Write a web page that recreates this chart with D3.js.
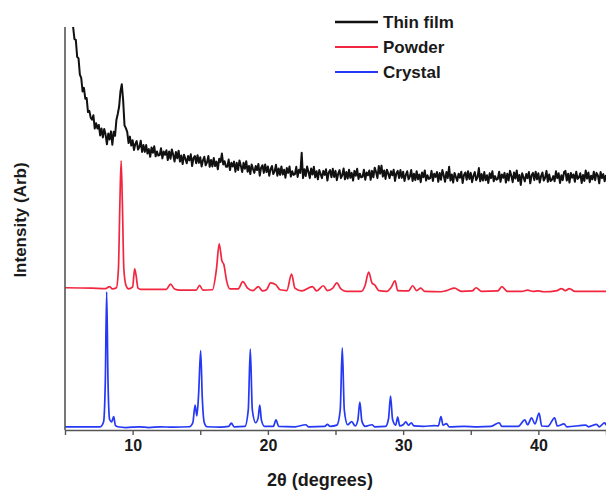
<!DOCTYPE html>
<html>
<head>
<meta charset="utf-8">
<script src="https://cdn.jsdelivr.net/npm/d3@7"></script>
<style>
  body { margin: 0; background: #fff; }
  svg { display: block; font-family: "Liberation Sans", Arial, sans-serif; }
</style>
</head>
<body>
<svg id="chart" width="606" height="493"></svg>
<script>
// thin film: one reading every 0.1 deg starting at 5.6 (one row per degree)
const filmStart = 5.6
const filmStep = 0.1
const filmValues = [
  100.0, 97.0, 96.8, 92.6,
  92.2, 88.2, 87.4, 84.0, 84.9, 82.2, 82.4, 78.9, 79.2, 77.5,
  77.0, 78.1, 74.8, 76.1, 74.8, 75.7, 73.1, 74.8, 72.6, 74.7,
  73.3, 70.9, 73.6, 72.1, 74.1, 70.8, 74.0, 73.0, 76.9, 78.4,
  80.2, 84.0, 85.8, 81.8, 75.6, 74.9, 74.0, 71.2, 72.8, 70.6,
  71.9, 69.5, 71.0, 71.7, 69.6, 70.2, 71.8, 69.0, 70.7, 69.0,
  70.7, 68.6, 69.7, 67.8, 70.1, 68.8, 70.4, 67.9, 69.1, 68.1,
  68.2, 69.9, 67.4, 69.1, 68.3, 69.4, 67.0, 69.1, 67.3, 69.6,
  68.3, 66.6, 69.0, 67.4, 69.3, 66.6, 68.1, 66.0, 68.3, 67.3,
  66.2, 68.0, 66.9, 68.4, 65.5, 67.5, 68.0, 66.2, 68.2, 66.3,
  67.7, 65.4, 66.9, 67.8, 65.7, 66.4, 68.0, 65.3, 67.0, 65.4,
  67.5, 65.5, 66.6, 64.7, 67.3, 66.5, 68.6, 65.9, 66.7, 65.3,
  65.3, 67.1, 64.5, 66.3, 65.4, 66.6, 64.1, 66.3, 64.5, 66.9,
  65.6, 64.0, 66.3, 64.8, 66.7, 64.1, 65.5, 63.5, 65.9, 64.8,
  63.8, 65.5, 64.5, 66.0, 63.1, 65.1, 65.7, 63.8, 65.9, 64.0,
  65.4, 63.1, 64.7, 65.5, 63.5, 64.2, 65.8, 63.1, 64.9, 63.3,
  65.4, 63.4, 64.6, 62.6, 65.0, 63.8, 65.4, 62.9, 64.2, 63.3,
  63.5, 65.3, 62.8, 64.6, 63.8, 68.8, 62.5, 64.7, 63.0, 65.4,
  64.1, 62.5, 64.9, 63.4, 65.3, 62.7, 64.2, 62.2, 64.5, 63.5,
  62.5, 64.3, 63.3, 64.7, 61.9, 63.9, 64.5, 62.7, 64.8, 62.8,
  64.3, 62.0, 63.6, 64.5, 62.5, 63.2, 64.9, 62.2, 64.0, 62.4,
  64.6, 62.6, 63.8, 61.9, 64.3, 63.1, 64.8, 62.3, 63.6, 62.7,
  62.8, 64.6, 62.1, 63.9, 63.2, 64.4, 62.1, 64.3, 62.7, 65.1,
  64.0, 62.5, 65.5, 63.6, 65.6, 62.9, 64.4, 62.3, 64.6, 63.6,
  62.5, 64.2, 63.2, 64.6, 61.8, 63.7, 64.3, 62.5, 64.5, 62.6,
  64.1, 61.8, 63.3, 64.2, 62.2, 62.9, 64.5, 61.8, 63.6, 62.0,
  64.2, 62.2, 63.4, 61.5, 63.9, 62.7, 64.4, 61.9, 63.2, 62.3,
  62.5, 64.3, 61.8, 63.6, 62.8, 64.0, 61.6, 63.8, 62.1, 64.5,
  63.2, 61.6, 64.0, 62.5, 65.3, 61.9, 63.4, 61.4, 63.8, 62.8,
  61.8, 63.6, 62.6, 64.1, 61.3, 63.3, 63.9, 62.1, 64.2, 62.3,
  63.8, 61.5, 63.1, 64.0, 62.0, 62.7, 65.0, 61.7, 63.5, 61.9,
  64.0, 62.0, 63.2, 61.3, 63.7, 62.5, 64.2, 61.7, 63.0, 62.1,
  62.3, 64.1, 61.6, 63.4, 62.6, 63.8, 61.4, 63.6, 61.9, 64.3,
  63.1, 61.5, 63.9, 62.4, 64.4, 61.8, 63.3, 60.8, 63.7, 62.7,
  61.7, 63.5, 62.5, 64.0, 61.2, 63.2, 63.8, 62.0, 64.1, 62.2,
  63.7, 61.4, 63.0, 63.9, 61.9, 62.6, 64.3, 61.6, 63.4, 61.8,
  62.1, 63.0, 61.7, 64.2, 62.5, 63.7, 61.3, 63.2, 62.0, 64.0,
  64.3, 61.9, 63.6, 61.4, 63.8, 62.6, 63.4, 61.6, 64.1, 62.3,
  62.7, 63.7, 61.3, 63.3, 61.8, 64.4, 62.4, 63.9, 61.5, 63.1,
  62.2, 64.1, 62.0, 63.8, 63.2, 61.2, 64.0, 62.5, 63.5, 61.7,
  63.3
]

const powderTheta = [
  5.0, 7.0, 8.0, 8.3, 8.5, 8.8, 8.95, 9.05, 9.15, 9.25, 9.35, 9.5, 9.7,
  10.0, 10.15, 10.25, 10.4, 10.6, 12.5, 12.8, 13.1, 13.5, 14.7, 14.95, 15.2,
  15.9, 16.2, 16.4, 16.6, 16.75, 16.95, 17.2, 17.8, 18.15, 18.5, 18.9, 19.3,
  19.6, 19.9, 20.2, 20.6, 20.9, 21.4, 21.75, 22.0, 22.5, 23.3, 23.6, 24.1,
  24.4, 24.8, 25.1, 25.4, 25.8, 26.9, 27.2, 27.45, 27.7, 27.9, 28.2, 28.8,
  29.1, 29.4, 29.6, 30.4, 30.7, 31.0, 31.3, 31.6, 32.8, 33.2, 33.8, 34.3,
  35.1, 35.4, 35.8, 37.0, 37.3, 37.7, 38.8, 39.2, 39.6, 40.0, 40.4, 41.4,
  41.7, 42.0, 42.3, 42.7, 44.0, 45.0
]
const powderValues = [
  35.3, 35.2, 35.1, 35.6, 35.0, 35.3, 40.0, 55.0, 66.8, 55.0, 40.0, 36.0, 35.0,
  35.5, 40.0, 38.5, 35.2, 34.9, 34.9, 36.2, 35.0, 34.7, 34.7, 35.9, 34.7,
  34.8, 40.0, 46.2, 42.0, 41.0, 37.0, 35.0, 35.0, 36.8, 35.2, 34.6, 35.6,
  34.5, 34.8, 36.5, 36.0, 34.8, 34.6, 38.7, 35.2, 34.5, 35.6, 34.5, 35.8,
  34.6, 35.2, 36.5, 35.0, 34.4, 34.4, 36.0, 39.2, 36.5, 36.0, 34.6, 34.4,
  35.3, 37.0, 34.6, 34.5, 35.8, 34.6, 35.2, 34.4, 34.3, 34.6, 35.2, 34.4,
  34.5, 35.3, 34.4, 34.5, 35.6, 34.4, 34.4, 34.7, 34.4, 34.5, 34.3, 34.6,
  35.1, 34.6, 35.1, 34.4, 34.4, 34.4
]

const crystalTheta = [
  5.0, 7.6, 7.85, 7.98, 8.08, 8.18, 8.3, 8.45, 8.6, 8.72, 8.9, 9.5, 10.5,
  11.2, 12.0, 13.0, 14.2, 14.45, 14.62, 14.75, 14.88, 15.03, 15.15, 15.3, 15.5,
  16.5, 17.1, 17.3, 17.5, 18.3, 18.55, 18.7, 18.85, 19.1, 19.28, 19.4, 19.52,
  19.75, 20.4, 20.6, 20.8, 22.0, 22.8, 23.0, 24.2, 24.4, 24.6, 25.1, 25.35,
  25.5, 25.65, 25.9, 26.2, 26.45, 26.65, 26.8, 26.95, 27.2, 27.7, 27.9, 28.7,
  28.92, 29.07, 29.22, 29.45, 29.6, 29.75, 30.0, 30.2, 30.4, 30.6, 30.8, 31.5,
  32.3, 32.6, 32.8, 32.95, 33.2, 33.4, 34.5, 35.5, 36.5, 37.1, 37.3, 38.5,
  39.0, 39.2, 39.5, 39.75, 40.05, 40.25, 40.7, 41.2, 41.4, 41.9, 42.1, 43.5,
  43.7, 44.3, 44.5, 44.9, 45.0
]
const crystalValues = [
  0.8, 0.8, 2.0, 12, 34.3, 12, 2.6, 2.0, 3.3, 1.2, 0.8, 0.6, 0.8,
  0.6, 0.8, 0.7, 0.8, 1.8, 6.2, 3.5, 9, 19.7, 8, 1.8, 0.8,
  0.7, 0.9, 1.7, 0.8, 0.9, 5, 20.1, 5, 1.8, 3, 6.2, 2.5,
  0.9, 0.9, 2.5, 0.9, 0.8, 1.3, 0.8, 0.9, 1.4, 0.9, 1.2, 5,
  20.4, 5, 1.3, 2.1, 1.0, 2.4, 6.9, 2.2, 0.9, 1.3, 0.8, 0.9,
  2.8, 8.4, 2.6, 1.2, 3.2, 1.0, 1.3, 2.0, 1.2, 1.8, 1.0, 0.9,
  1.1, 1.0, 3.3, 1.2, 1.6, 0.8, 0.9, 0.8, 0.9, 1.8, 0.9, 0.9,
  2.5, 1.3, 3.0, 1.5, 4.2, 1.0, 0.9, 3.0, 1.0, 1.5, 0.8, 1.2,
  0.8, 1.4, 0.8, 1.8, 1.2
]

const xTicks = [5, 10, 15, 20, 25, 30, 35, 40, 45]
const xTickLabels = ['', '10', '', '20', '', '30', '', '40', '']
const legendLabels = ['Thin film', 'Powder', 'Crystal']
const seriesColors = ['#111111', '#f2263f', '#2438f5']

//chart globals
const svg = d3.select('#chart')
const margin = { left: 65, right: 0, top: 27, bottom: 63 }
const width = 606 - margin.left - margin.right
const height = 493 - margin.top - margin.bottom

const g = svg.append('g')
    .attr('transform', `translate(${margin.left}, ${margin.top})`)

const x = d3.scaleLinear().domain([5, 45]).range([0, width])
const y = d3.scaleLinear().domain([0, 100]).range([height, 0])

//build point lists
const film = filmValues.map((v, i) => ({ t: filmStart + filmStep * i, v }))
const powder = powderTheta.map((t, i) => ({ t, v: powderValues[i] }))
const crystal = crystalTheta.map((t, i) => ({ t, v: crystalValues[i] }))

const lineLin = d3.line().x(d => x(d.t)).y(d => y(d.v))
const lineSmooth = d3.line().x(d => x(d.t)).y(d => y(d.v)).curve(d3.curveMonotoneX)

g.append('path')
    .datum(crystal)
    .attr('fill', 'none')
    .attr('stroke', seriesColors[2])
    .attr('stroke-width', 1.7)
    .attr('stroke-linejoin', 'round')
    .attr('d', lineSmooth)

g.append('path')
    .datum(powder)
    .attr('fill', 'none')
    .attr('stroke', seriesColors[1])
    .attr('stroke-width', 1.7)
    .attr('stroke-linejoin', 'round')
    .attr('d', lineSmooth)

g.append('path')
    .datum(film)
    .attr('fill', 'none')
    .attr('stroke', seriesColors[0])
    .attr('stroke-width', 2)
    .attr('stroke-linejoin', 'round')
    .attr('d', lineLin)

//axes
const xAxisCall = d3.axisBottom(x)
    .tickValues(xTicks)
    .tickFormat((d, i) => xTickLabels[i])
    .tickSize(5)
    .tickSizeOuter(0)

const xAxisGroup = g.append('g')
    .attr('class', 'x-axis')
    .attr('transform', `translate(0, ${height})`)
    .call(xAxisCall)
xAxisGroup.select('.domain').attr('stroke', '#555').attr('stroke-width', 1.6)
xAxisGroup.selectAll('.tick line').attr('stroke', '#555').attr('stroke-width', 1.4)
xAxisGroup.selectAll('text')
    .attr('y', 10)
    .attr('fill', '#1a1a1a')
    .attr('font-size', '16px')
    .attr('font-weight', 'bold')
    .attr('font-family', '"Liberation Sans", Arial, sans-serif')

g.append('line')
    .attr('class', 'y-axis')
    .attr('x1', 0).attr('x2', 0)
    .attr('y1', 0).attr('y2', height)
    .attr('stroke', '#555')
    .attr('stroke-width', 1.6)

//axis labels
g.append('text')
    .attr('x', 255)
    .attr('y', height + 56)
    .attr('text-anchor', 'middle')
    .attr('font-size', '18px')
    .attr('font-weight', 'bold')
    .attr('fill', '#1a1a1a')
    .text('2θ (degrees)')

g.append('text')
    .attr('transform', `translate(-39, ${193}) rotate(-90)`)
    .attr('text-anchor', 'middle')
    .attr('font-size', '17px')
    .attr('font-weight', 'bold')
    .attr('fill', '#1a1a1a')
    .text('Intensity (Arb)')

//legend
const legend = svg.append('g').attr('transform', 'translate(335, 22)')
legendLabels.forEach((lab, i) => {
    const row = legend.append('g').attr('transform', `translate(0, ${i * 25})`)
    row.append('line')
        .attr('x1', 0).attr('x2', 43)
        .attr('stroke', seriesColors[i])
        .attr('stroke-width', i === 0 ? 2.6 : 2)
    row.append('text')
        .attr('x', 48)
        .attr('dy', '0.35em')
        .attr('font-size', '17px')
        .attr('font-weight', 'bold')
        .attr('fill', '#1a1a1a')
        .text(lab)
})
</script>
</body>
</html>
